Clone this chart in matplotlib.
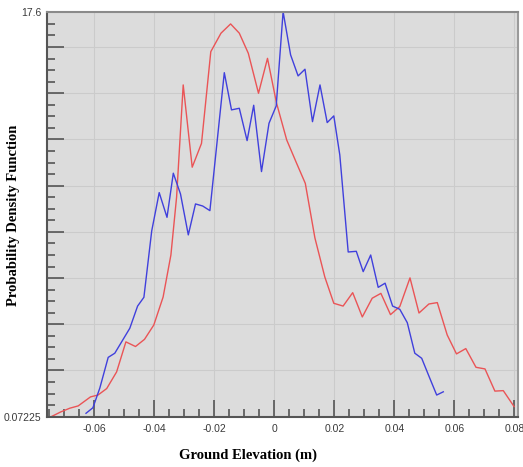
import matplotlib.pyplot as plt
import numpy as np
from matplotlib.ticker import MultipleLocator

# red curve
red_x = [-0.0743, -0.0712, -0.0682, -0.0654, -0.0613, -0.0588, -0.0559, -0.0526,
         -0.0495, -0.0463, -0.0433, -0.0402, -0.0371, -0.0345, -0.0326, -0.0304,
         -0.0274, -0.0243, -0.0212, -0.0178, -0.0146, -0.0117, -0.0087, -0.0053,
         -0.0023, 0.0007, 0.0041, 0.0074, 0.0103, 0.0135, 0.0168, 0.0198,
         0.0229, 0.0261, 0.0293, 0.0326, 0.0355, 0.0387, 0.0418, 0.0452,
         0.0482, 0.0515, 0.0543, 0.0576, 0.0607, 0.0638, 0.0672, 0.0702,
         0.0735, 0.0763, 0.0799]
red_y = [0.08, 0.28, 0.44, 0.54, 0.93, 1.01, 1.29, 2.01,
         3.31, 3.11, 3.42, 4.04, 5.25, 7.07, 9.58, 14.43,
         10.87, 11.90, 15.87, 16.67, 17.07, 16.67, 15.80, 14.07,
         15.58, 13.65, 12.05, 11.04, 10.17, 7.81, 6.12, 4.98,
         4.86, 5.44, 4.39, 5.20, 5.41, 4.49, 4.84, 6.08,
         4.56, 4.95, 5.01, 3.61, 2.79, 3.02, 2.21, 2.14,
         1.18, 1.20, 0.51]

# blue curve
blue_x = [-0.0628, -0.0605, -0.0582, -0.0554, -0.0532, -0.0482, -0.0456, -0.0435,
          -0.0409, -0.0384, -0.0358, -0.0337, -0.0313, -0.0287, -0.0263, -0.0239,
          -0.0215, -0.0167, -0.0143, -0.0117, -0.0091, -0.0069, -0.0043, -0.0018,
          0.0006, 0.0029, 0.0054, 0.0079, 0.0102, 0.0127, 0.0152, 0.0176,
          0.0198, 0.0218, 0.0246, 0.0273, 0.0296, 0.0321, 0.0346, 0.0369,
          0.0394, 0.0418, 0.0443, 0.0468, 0.0491, 0.0516, 0.0541, 0.0563]
blue_y = [0.22, 0.46, 1.31, 2.64, 2.82, 3.90, 4.86, 5.24,
          8.11, 9.77, 8.70, 10.61, 9.71, 7.94, 9.28, 9.19,
          8.99, 14.96, 13.35, 13.42, 12.02, 13.55, 10.68, 12.77,
          13.52, 17.60, 15.73, 14.82, 15.11, 12.84, 14.43, 12.80,
          13.09, 11.40, 7.20, 7.23, 6.35, 7.07, 5.67, 5.85,
          4.86, 4.72, 4.14, 2.82, 2.60, 1.80, 1.01, 1.15]

x_ticks = [-0.06, -0.04, -0.02, 0, 0.02, 0.04, 0.06, 0.08]
x_tick_labels = ["-0.06", "-0.04", "-0.02", "0", "0.02", "0.04", "0.06", "0.08"]
y_min, y_max = 0.07225, 17.6
y_labels = ["0.07225", "17.6"]

fig = plt.figure(figsize=(5.23, 4.67), dpi=100)
ax = fig.add_axes([0.0893, 0.1077, 0.9017, 0.8673])
ax.set_facecolor("#dcdcdc")

ax.plot(red_x, red_y, color="#ea5456", linewidth=1.0)
ax.plot(blue_x, blue_y, color="#4040dc", linewidth=1.0)

ax.set_xlim(-0.0759, 0.0813)
ax.set_ylim(y_min, y_max)

# x axis ticks
ax.set_xticks(x_ticks, labels=x_tick_labels)
ax.xaxis.set_minor_locator(MultipleLocator(0.005))

# y axis: long ticks every 2 from the minimum, short ones every 0.5
major_y = list(np.arange(y_min, y_max, 2.0))
minor_y = list(np.arange(y_min, y_max, 0.5)) + [y_max]
ax.set_yticks(major_y, labels=[y_labels[0]] + [""] * (len(major_y) - 1))
ax.set_yticks(minor_y, labels=[""] * (len(minor_y) - 1) + [y_labels[1]], minor=True)

ax.tick_params(axis="both", which="both", direction="in", colors="#555555",
               labelcolor="#3a3a3a", labelsize=7.5)
ax.tick_params(axis="both", which="major", length=12, width=1.2)
ax.tick_params(axis="both", which="minor", length=6, width=1.2)
ax.tick_params(axis="x", which="both", pad=5)
ax.tick_params(axis="y", which="both", pad=4)
for lab in ax.get_xticklabels() + ax.get_yticklabels() + ax.get_yticklabels(minor=True):
    lab.set_family("Liberation Sans")

ax.grid(which="major", color="#cbcbcb", linewidth=0.8)
ax.set_axisbelow(True)

ax.spines["left"].set_color("#555555")
ax.spines["bottom"].set_color("#555555")
ax.spines["top"].set_color("#8a8a8a")
ax.spines["right"].set_color("#9a9a9a")
for s in ax.spines.values():
    s.set_linewidth(1.5)

fig.text(248 / 523, 1 - 455 / 467, "Ground Elevation (m)", ha="center", va="center",
         family="Liberation Serif", fontweight="bold", fontsize=10.5)
fig.text(14 / 523, 1 - 215 / 467, "Probability Density Function", ha="center", va="center",
         rotation=90, family="Liberation Serif", fontweight="bold", fontsize=10.5)

fig.savefig("out.png", dpi=100)
